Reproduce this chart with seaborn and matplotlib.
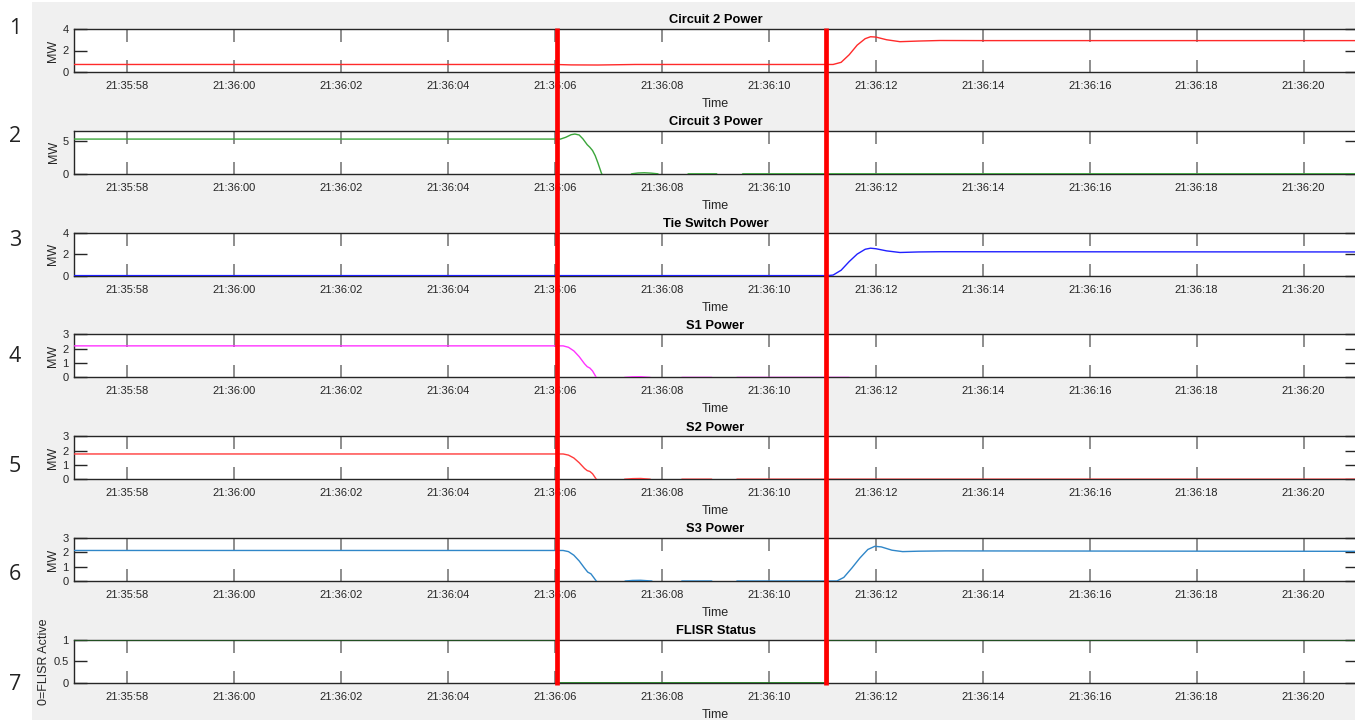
import numpy as np
import pandas as pd
import matplotlib
matplotlib.use("Agg")
import matplotlib.pyplot as plt
import matplotlib.dates as mdates
import matplotlib.transforms as mtransforms
from matplotlib.patches import Rectangle
from matplotlib.lines import Line2D
import seaborn as sns

sns.set_style("white")
plt.rcParams["font.family"] = ["Liberation Sans", "DejaVu Sans"]

# Time base: all sample times are seconds after 21:36:00
BASE = np.datetime64("2019-01-01T21:36:00.000")
X_START, X_END = -3.0, 21.0

# Circuit 2 power (MW)
c2_t = [-3.0, 6.0, 6.3, 6.8, 7.5, 11.2, 11.35, 11.5, 11.65, 11.8, 11.9, 12.0,
        12.2, 12.45, 12.8, 13.2, 14.0, 21.0]
c2_v = [0.70, 0.70, 0.66, 0.65, 0.70, 0.70, 0.90, 1.60, 2.50, 3.10, 3.28, 3.25,
        3.00, 2.82, 2.88, 2.93, 2.92, 2.92]

# Circuit 3 power (MW)
c3_t = [-3.0, 6.1, 6.2, 6.3, 6.37, 6.45, 6.52, 6.6, 6.65, 6.7, 6.75, 6.8, 6.87,
        6.92, 7.4, 7.43, 7.55, 7.67, 7.8, 7.92, 7.97, 8.45, 8.49, 9.02, 9.06,
        9.47, 9.51, 21.0]
c3_v = [5.37, 5.37, 5.65, 6.05, 6.15, 6.0, 5.4, 4.5, 4.1, 3.6, 2.8, 1.7, 0.0,
        -0.4, -0.4, 0.0, 0.12, 0.16, 0.10, 0.0, -0.4, -0.4, 0.0, 0.0, -0.4,
        -0.4, 0.0, 0.0]

# Tie switch power (MW)
tie_t = [-3.0, 11.1, 11.2, 11.35, 11.5, 11.65, 11.8, 11.9, 12.0, 12.2, 12.45,
         12.8, 13.2, 21.0]
tie_v = [0.0, 0.0, 0.05, 0.5, 1.3, 2.0, 2.45, 2.55, 2.5, 2.3, 2.15,
         2.2, 2.22, 2.2]

# S1 power (MW)
s1_t = [-3.0, 6.15, 6.25, 6.35, 6.45, 6.55, 6.6, 6.65, 6.7, 6.77, 6.82, 7.28,
        7.3, 7.45, 7.6, 7.78, 7.82, 8.33, 8.37, 8.93, 8.97, 9.36, 9.4, 11.5,
        11.55, 21.0]
s1_v = [2.2, 2.2, 2.1, 1.85, 1.45, 0.95, 0.75, 0.65, 0.45, 0.0, -0.3, -0.3,
        0.0, 0.04, 0.05, 0.0, -0.3, -0.3, 0.0, 0.0, -0.3, -0.3, 0.0, 0.0,
        -0.3, -0.3]

# S2 power (MW)
s2_t = [-3.0, 6.15, 6.25, 6.35, 6.45, 6.55, 6.6, 6.65, 6.7, 6.77, 6.82, 7.28,
        7.3, 7.45, 7.6, 7.78, 7.82, 8.33, 8.37, 8.93, 8.97, 9.36, 9.4, 21.0]
s2_v = [1.76, 1.76, 1.68, 1.48, 1.15, 0.75, 0.6, 0.54, 0.38, 0.0, -0.3, -0.3,
        0.0, 0.04, 0.05, 0.0, -0.3, -0.3, 0.0, 0.0, -0.3, -0.3, 0.0, 0.0]

# S3 power (MW)
s3_t = [-3.0, 6.15, 6.25, 6.35, 6.45, 6.55, 6.61, 6.67, 6.72, 6.77, 6.82, 7.28,
        7.31, 7.45, 7.6, 7.81, 7.85, 8.33, 8.37, 8.93, 8.97, 9.36, 9.4, 11.27,
        11.4, 11.55, 11.7, 11.85, 11.98, 12.1, 12.3, 12.5, 12.8, 13.3, 21.0]
s3_v = [2.13, 2.13, 2.05, 1.8, 1.4, 0.9, 0.62, 0.5, 0.25, 0.0, -0.3, -0.3,
        0.0, 0.04, 0.05, 0.0, -0.3, -0.3, 0.0, 0.0, -0.3, -0.3, 0.0, 0.0,
        0.25, 0.9, 1.6, 2.2, 2.42, 2.38, 2.15, 2.05, 2.08, 2.1, 2.07]

# FLISR status (1 = idle, 0 = FLISR active)
fl_t = [-3.0, 6.05, 6.051, 11.1, 11.101, 21.0]
fl_v = [1, 1, 0, 0, 1, 1]

# FLISR start / restoration instants
event_t = [6.03, 11.07]

panels = [
    dict(t=c2_t, v=c2_v, title="Circuit 2 Power", ylabel="MW", ylim=(0, 4),
         yticks=[0, 2, 4], color="#ff2a2a"),
    dict(t=c3_t, v=c3_v, title="Circuit 3 Power", ylabel="MW", ylim=(0, 6.65),
         yticks=[0, 5], color="#3aa53a"),
    dict(t=tie_t, v=tie_v, title="Tie Switch Power", ylabel="MW", ylim=(0, 4),
         yticks=[0, 2, 4], color="#2020ff"),
    dict(t=s1_t, v=s1_v, title="S1 Power", ylabel="MW", ylim=(0, 3),
         yticks=[0, 1, 2, 3], color="#ff33ff"),
    dict(t=s2_t, v=s2_v, title="S2 Power", ylabel="MW", ylim=(0, 3),
         yticks=[0, 1, 2, 3], color="#ff3b3b"),
    dict(t=s3_t, v=s3_v, title="S3 Power", ylabel="MW", ylim=(0, 3),
         yticks=[0, 1, 2, 3], color="#2f86c8"),
    dict(t=fl_t, v=fl_v, title="FLISR Status", ylabel="0=FLISR Active",
         ylim=(0, 1), yticks=[0, 0.5, 1], color="#1f7a1f"),
]
row_numbers = ["1", "2", "3", "4", "5", "6", "7"]
row_number_y = [29, 137, 241, 357, 466, 574, 684]


def to_time(sec):
    return BASE + (np.asarray(sec, dtype=float) * 1e6).astype("timedelta64[us]")


W, H = 1355, 720
fig = plt.figure(figsize=(W / 100, H / 100), dpi=100)
fig.patch.set_facecolor("white")
fig.add_artist(Rectangle((32 / W, 0), 1, 1 - 2 / H, transform=fig.transFigure,
                         facecolor="#f0f0f0", edgecolor="none", zorder=-10))

AX_LEFT, AX_RIGHT = 74, 1357
AX_TOP0, AX_STEP, AX_H = 29, 101.8, 43
DARK = "#262626"

axes = []
for i, p in enumerate(panels):
    top = AX_TOP0 + i * AX_STEP
    ax = fig.add_axes([AX_LEFT / W, 1 - (top + AX_H) / H,
                       (AX_RIGHT - AX_LEFT) / W, AX_H / H])
    ax.set_facecolor("white")
    df = pd.DataFrame({"time": to_time(p["t"]), "value": p["v"]})
    sns.lineplot(data=df, x="time", y="value", ax=ax, color=p["color"],
                 linewidth=1.0, sort=False, estimator=None, legend=False,
                 zorder=3)
    ax.set_xlim(to_time(X_START), to_time(X_END))
    ax.set_ylim(*p["ylim"])
    ax.set_yticks(p["yticks"])
    ax.set_yticklabels([f"{v:g}" for v in p["yticks"]])
    ax.xaxis.set_major_locator(mdates.SecondLocator(bysecond=range(0, 60, 2)))
    ax.xaxis.set_major_formatter(mdates.DateFormatter("%H:%M:%S"))
    ax.tick_params(axis="x", direction="in", top=True, bottom=True, length=9,
                   width=1.2, color="#7a7a7a", labelsize=8, labelcolor=DARK,
                   pad=6.5)
    ax.tick_params(axis="y", direction="in", left=True, right=True, length=9,
                   width=1.0, color=DARK, labelsize=8, labelcolor=DARK, pad=4)
    for side in ("top", "bottom", "left", "right"):
        ax.spines[side].set_visible(True)
        ax.spines[side].set_color(DARK)
        ax.spines[side].set_linewidth(1.0)
    ax.set_title(p["title"], fontsize=9.3, fontweight="bold", pad=4,
                 color="black")
    ax.set_xlabel("Time", fontsize=9, labelpad=5, color=DARK)
    ax.set_ylabel(p["ylabel"], fontsize=9, labelpad=2, color=DARK)
    ax.grid(False)
    axes.append(ax)

# Thick red markers across all panels at the event instants
trans = mtransforms.blended_transform_factory(axes[-1].transData, fig.transFigure)
for t in event_t:
    xnum = mdates.date2num(to_time(t))
    fig.add_artist(Line2D([xnum, xnum], [1 - 28 / H, 1 - 685 / H],
                          transform=trans, color="#ff0000", linewidth=3.4,
                          solid_capstyle="butt", zorder=20, clip_on=False))

for label, y in zip(row_numbers, row_number_y):
    fig.text(15 / W, 1 - y / H, label, fontsize=15.5, family="Open Sans",
             ha="center", va="center", color="#222222")

fig.savefig("out.png", dpi=100)
